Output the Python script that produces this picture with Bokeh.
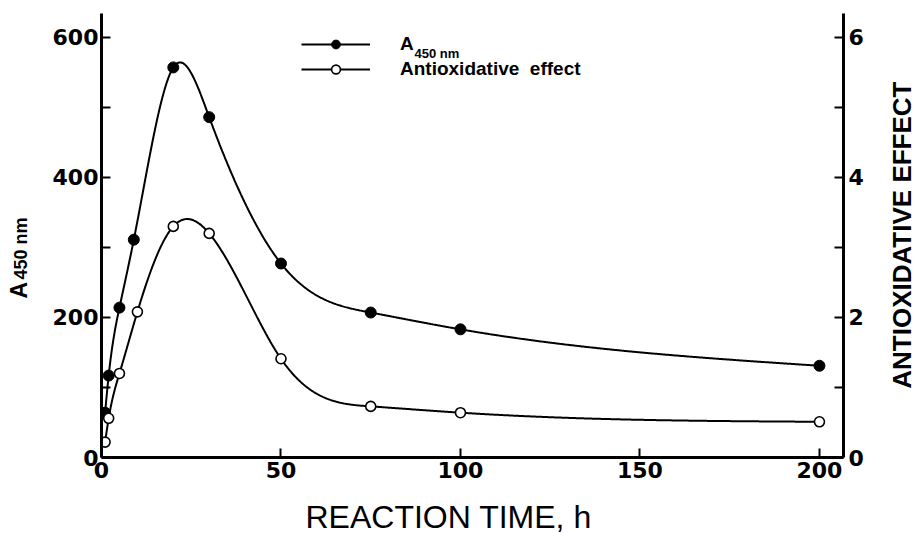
import math
import numpy as np
from bokeh.plotting import figure
from bokeh.layouts import row
from bokeh.models import (Range1d, LinearAxis, FixedTicker, Label, Legend, LegendItem)
from bokeh.embed import file_html
from bokeh.resources import INLINE

# ---------------- data ----------------
time_a450 = [1, 2, 5, 9, 20, 30, 50, 75, 100, 200]
a450 = [64, 117, 214, 311, 557, 486, 277, 207, 183, 131]

time_antiox = [1, 2, 5, 10, 20, 30, 50, 75, 100, 200]
antiox = [0.22, 0.56, 1.2, 2.08, 3.3, 3.2, 1.41, 0.73, 0.64, 0.51]

x_ticks = [0, 50, 100, 150, 200]
left_ticks = [0, 200, 400, 600]
left_minor = [100, 300, 500]
right_ticks = [0, 2, 4, 6]
right_minor = [1, 3, 5]


def natural_spline(xk, yk, xs):
    xk = np.asarray(xk, float)
    yk = np.asarray(yk, float)
    n = len(xk)
    h = np.diff(xk)
    A = np.zeros((n, n))
    b = np.zeros(n)
    A[0, 0] = 1
    A[-1, -1] = 1
    for i in range(1, n - 1):
        A[i, i - 1] = h[i - 1]
        A[i, i] = 2 * (h[i - 1] + h[i])
        A[i, i + 1] = h[i]
        b[i] = 6 * ((yk[i + 1] - yk[i]) / h[i] - (yk[i] - yk[i - 1]) / h[i - 1])
    M = np.linalg.solve(A, b)
    idx = np.clip(np.searchsorted(xk, xs) - 1, 0, n - 2)
    x0 = xk[idx]
    x1 = xk[idx + 1]
    hh = x1 - x0
    t1 = x1 - xs
    t0 = xs - x0
    return (M[idx] * t1 ** 3 / (6 * hh) + M[idx + 1] * t0 ** 3 / (6 * hh)
            + (yk[idx] / hh - M[idx] * hh / 6) * t1
            + (yk[idx + 1] / hh - M[idx + 1] * hh / 6) * t0)


xs_a = np.linspace(time_a450[0], time_a450[-1], 800)
ys_a = natural_spline(time_a450, a450, xs_a)
xs_b = np.linspace(time_antiox[0], time_antiox[-1], 800)
ys_b = natural_spline(time_antiox, antiox, xs_b)

H = 533
FRAME_H = 444
LEFT_W = 40
RIGHT_W = 47

tick_font = "DejaVu Sans"
label_font = "Liberation Sans"

# ---------------- main figure ----------------
p = figure(frame_width=742, frame_height=FRAME_H,
           x_range=Range1d(0, 206.7), y_range=Range1d(0, 634),
           output_backend="svg", toolbar_location=None,
           min_border_left=61, min_border_right=30,
           min_border_top=13, min_border_bottom=76)
p.extra_y_ranges = {"ae": Range1d(0, 6.34)}
p.outline_line_color = None
p.xgrid.visible = False
p.ygrid.visible = False
p.background_fill_color = "white"
p.border_fill_color = "white"


def style_axis(ax):
    ax.axis_line_width = 3
    ax.axis_line_color = "black"
    ax.major_tick_line_width = 2
    ax.minor_tick_line_width = 2
    ax.major_tick_line_color = "black"
    ax.minor_tick_line_color = "black"
    ax.major_tick_in = 9
    ax.major_tick_out = 0
    ax.minor_tick_in = 9
    ax.minor_tick_out = 0
    ax.major_label_text_font = tick_font
    ax.major_label_text_font_style = "bold"
    ax.major_label_text_font_size = "22px"
    ax.major_label_text_color = "black"


xa = p.xaxis[0]
xa.ticker = FixedTicker(ticks=x_ticks)
style_axis(xa)
xa.major_label_standoff = 4

ya = p.yaxis[0]
ya.ticker = FixedTicker(ticks=left_ticks, minor_ticks=left_minor)
style_axis(ya)
ya.major_label_standoff = 3

ra = LinearAxis(y_range_name="ae", ticker=FixedTicker(ticks=right_ticks, minor_ticks=right_minor))
style_axis(ra)
ra.major_label_standoff = 5
p.add_layout(ra, "right")

# x-axis title, in its own panel below the axis so that it can sit off-centre
p.add_layout(Label(x=204, y=0, x_units="screen", y_units="screen",
                   text="REACTION  TIME,  h", text_font=label_font,
                   text_font_style="normal", text_font_size="32px",
                   text_color="black", text_align="left",
                   text_baseline="alphabetic"), "below")

# ---------------- curves and points ----------------
la = p.line(xs_a, ys_a, line_color="black", line_width=2)
sa = p.scatter(time_a450, a450, size=11, marker="circle",
               fill_color="black", line_color="black", line_width=1)
lb = p.line(xs_b, ys_b, line_color="black", line_width=2, y_range_name="ae")
sb = p.scatter(time_antiox, antiox, size=10, marker="circle",
               fill_color="white", line_color="black", line_width=1.6,
               y_range_name="ae")

# ---------------- legend ----------------
legend = Legend(items=[LegendItem(label="A", renderers=[la, sa]),
                       LegendItem(label="Antioxidative  effect", renderers=[lb, sb])],
                location=(200, 377), orientation="vertical",
                glyph_width=69, glyph_height=22, label_height=22,
                label_standoff=30, spacing=3, padding=0, margin=0,
                border_line_color=None, background_fill_alpha=0,
                label_text_font=label_font, label_text_font_style="bold",
                label_text_font_size="19px", label_text_color="black")
p.add_layout(legend)

p.add_layout(Label(x=313, y=404, x_units="screen", y_units="screen",
                   text="450 nm", text_font=label_font,
                   text_font_style="bold", text_font_size="13px",
                   text_color="black", text_align="left",
                   text_baseline="alphabetic"))


# ---------------- side strips holding the two rotated axis titles ----------------
# (their frames line up with the main frame: 444 px tall, 13 px from the top)
def strip(width):
    f = figure(width=width, height=H, x_range=Range1d(0, width), y_range=Range1d(0, FRAME_H),
               output_backend="svg", toolbar_location=None,
               x_axis_location=None, y_axis_location=None, min_border=0)
    f.outline_line_color = None
    f.grid.visible = False
    f.background_fill_color = "white"
    f.border_fill_color = "white"
    return f


left_strip = strip(LEFT_W)
left_strip.add_layout(Label(x=18, y=159, text="A", angle=math.pi / 2,
                            text_font=label_font, text_font_style="bold",
                            text_font_size="23px", text_color="black",
                            text_align="left", text_baseline="alphabetic"))
left_strip.add_layout(Label(x=20, y=178, text="450 nm", angle=math.pi / 2,
                            text_font=label_font, text_font_style="bold",
                            text_font_size="18px", text_color="black",
                            text_align="left", text_baseline="alphabetic"))

right_strip = strip(RIGHT_W)
right_strip.add_layout(Label(x=28, y=226, text="ANTIOXIDATIVE  EFFECT",
                             angle=math.pi / 2, text_font=label_font,
                             text_font_style="bold", text_font_size="26px",
                             text_color="black", text_align="center",
                             text_baseline="middle"))

layout = row(left_strip, p, right_strip, spacing=0)

open("out.html", "w").write(file_html(layout, INLINE))
